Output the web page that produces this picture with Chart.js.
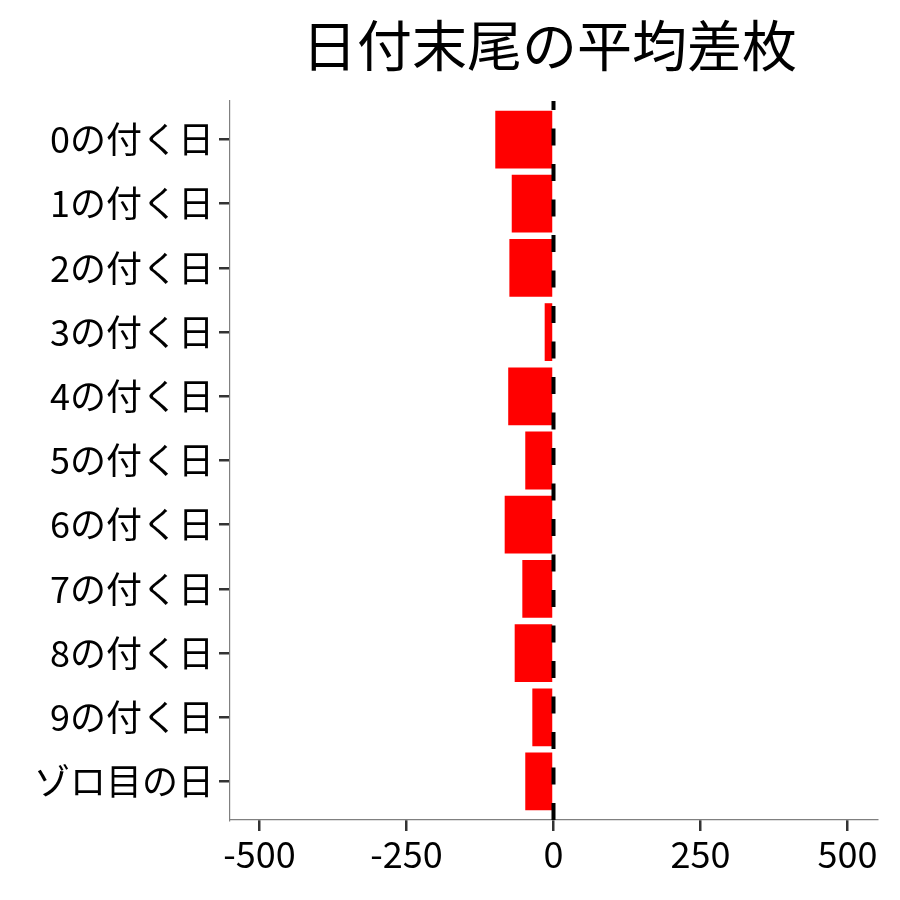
<!DOCTYPE html>
<html>
<head>
<meta charset="utf-8">
<title>日付末尾の平均差枚</title>
<script src="https://cdn.jsdelivr.net/npm/chart.js@4"></script>
<style>
  html, body { margin: 0; padding: 0; background: #fff; }
  #wrap { width: 900px; height: 900px; }
</style>
</head>
<body>
<div id="wrap"><canvas id="chart" width="900" height="900"></canvas></div>
<script>
// data
const chartTitle = "日付末尾の平均差枚";
const dayLabels = ["0の付く日", "1の付く日", "2の付く日", "3の付く日", "4の付く日",
  "5の付く日", "6の付く日", "7の付く日", "8の付く日", "9の付く日", "ゾロ目の日"];
const avgDiff = [-99, -71, -75, -15, -77, -48, -83, -53, -66, -36, -48];
const xTicks = [-500, -250, 0, 250, 500];
const xMin = -550;
const xMax = 550;

const fontFamily = "'Noto Sans CJK JP', 'Noto Sans', sans-serif";

// draw the title centred over the plot panel
const titlePlugin = {
  id: "panelTitle",
  afterDraw(chart) {
    const ctx = chart.ctx;
    const area = chart.chartArea;
    ctx.save();
    ctx.font = "55px " + fontFamily;
    ctx.fillStyle = "#000";
    ctx.textAlign = "center";
    ctx.textBaseline = "middle";
    ctx.fillText(chartTitle, (area.left + area.right) / 2 - 4, 45);
    ctx.restore();
  }
};

// dashed reference line at zero
const zeroLine = {
  id: "zeroLine",
  afterDatasetsDraw(chart) {
    const ctx = chart.ctx;
    const area = chart.chartArea;
    const x = chart.scales.x.getPixelForValue(0);
    ctx.save();
    ctx.beginPath();
    ctx.rect(area.left, area.top, area.right - area.left, area.bottom - area.top);
    ctx.clip();
    ctx.strokeStyle = "#000";
    ctx.lineWidth = 4;
    ctx.setLineDash([17, 18.5]);
    ctx.beginPath();
    ctx.moveTo(x, area.bottom);
    ctx.lineTo(x, area.top);
    ctx.stroke();
    ctx.restore();
  }
};

const points = avgDiff.map((v, i) => ({ x: v, y: i }));

new Chart(document.getElementById("chart"), {
  type: "bar",
  data: {
    datasets: [{
      data: points,
      backgroundColor: "#ff0000",
      borderWidth: 0,
      categoryPercentage: 0.9,
      barPercentage: 1
    }]
  },
  options: {
    indexAxis: "y",
    responsive: false,
    animation: false,
    layout: { padding: { top: 101, right: 23, bottom: 0, left: 0 } },
    plugins: {
      legend: { display: false },
      title: { display: false },
      tooltip: { enabled: false }
    },
    scales: {
      x: {
        type: "linear",
        min: xMin,
        max: xMax,
        afterBuildTicks: (scale) => {
          scale.ticks = xTicks.map(v => ({ value: v }));
        },
        afterFit: (scale) => { scale.height = 80; },
        grid: {
          drawOnChartArea: false,
          drawTicks: true,
          tickLength: 11,
          color: "#333",
          lineWidth: 2.5
        },
        border: { display: true, color: "#808080", width: 1.2 },
        ticks: {
          color: "#000",
          padding: 2,
          maxRotation: 0,
          font: { family: fontFamily, size: 36 }
        }
      },
      y: {
        type: "linear",
        reverse: true,
        offset: false,
        min: -0.6,
        max: dayLabels.length - 1 + 0.6,
        afterBuildTicks: (scale) => {
          scale.ticks = dayLabels.map((_, i) => ({ value: i }));
        },
        afterFit: (scale) => { scale.width = 230; },
        grid: {
          offset: false,
          drawOnChartArea: false,
          drawTicks: true,
          tickLength: 11,
          color: "#333",
          lineWidth: 2.5
        },
        border: { display: true, color: "#808080", width: 1.2 },
        ticks: {
          color: "#000",
          padding: 5,
          font: { family: fontFamily, size: 36 },
          callback: (value) => dayLabels[value] ?? ""
        }
      }
    }
  },
  plugins: [titlePlugin, zeroLine]
});
</script>
</body>
</html>
